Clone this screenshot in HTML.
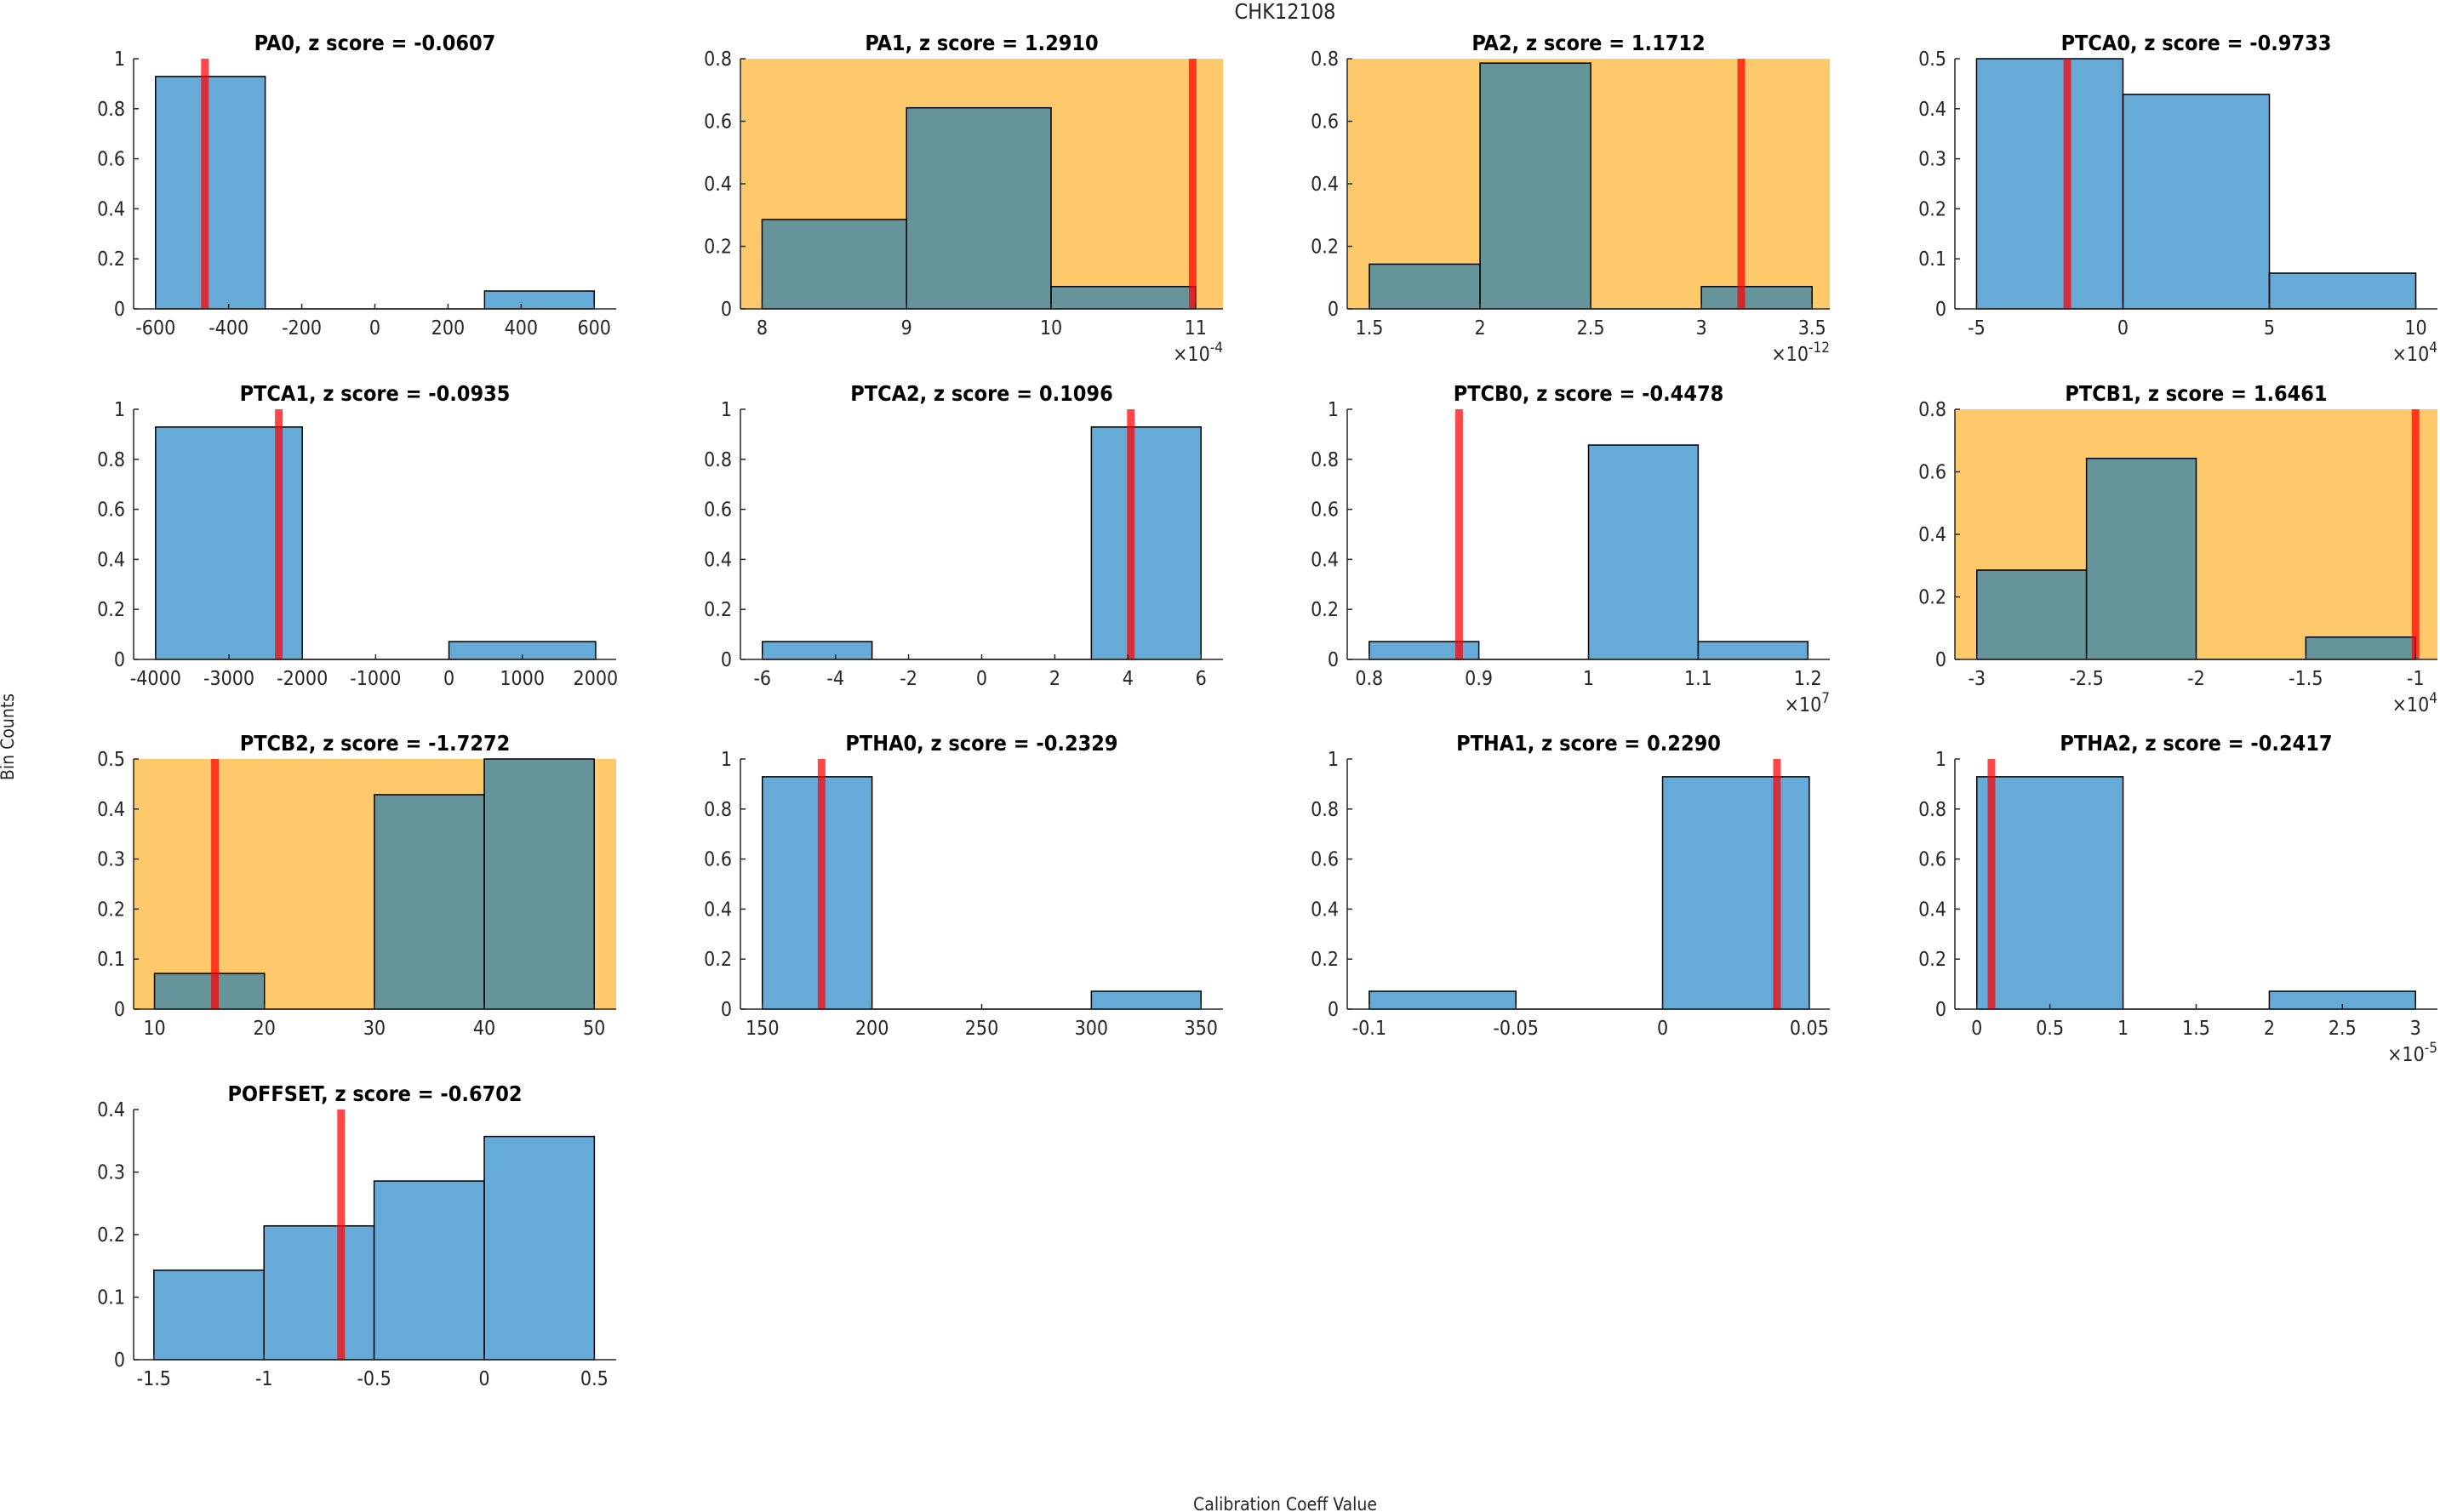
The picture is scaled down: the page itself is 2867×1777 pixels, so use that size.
<!DOCTYPE html>
<html><head><meta charset="utf-8"><style>
html,body{margin:0;padding:0;background:#fff}
svg{display:block}
text{font-family:"DejaVu Sans Condensed","DejaVu Sans","Liberation Sans",sans-serif;font-stretch:condensed;fill:#262626}
.tick{font-size:23px}
.ttl{font-size:25px;font-weight:bold;fill:#000}
</style></head><body>
<svg id="fig" width="2867" height="1777" viewBox="0 0 2867 1777" xmlns="http://www.w3.org/2000/svg">
<text x="1510" y="22" text-anchor="middle" style="font-size:25px">CHK12108</text>
<text x="0" y="0" transform="translate(16,866) rotate(-90)" text-anchor="middle" style="font-size:21px">Bin Counts</text>
<text x="1510" y="1775" text-anchor="middle" style="font-size:21px">Calibration Coeff Value</text>
</svg>
<script>
const names=["PA0","PA1","PA2","PTCA0","PTCA1","PTCA2","PTCB0","PTCB1","PTCB2","PTHA0","PTHA1","PTHA2","POFFSET"];
const zscores=["-0.0607","1.2910","1.1712","-0.9733","-0.0935","0.1096","-0.4478","1.6461","-1.7272","-0.2329","0.2290","-0.2417","-0.6702"];
const xlims=[[-660,660],[7.85,11.19],[1.4,3.58],[-5.74,10.74],[-4300,2280],[-6.6,6.6],[0.78,1.22],[-3.1,-0.9],[8.1,52],[140,360],[-0.1075,0.057],[-0.15,3.15],[-1.592,0.599]];
const xticks=[[-600,-400,-200,0,200,400,600],[8,9,10,11],[1.5,2,2.5,3,3.5],[-5,0,5,10],[-4000,-3000,-2000,-1000,0,1000,2000],[-6,-4,-2,0,2,4,6],[0.8,0.9,1,1.1,1.2],[-3,-2.5,-2,-1.5,-1],[10,20,30,40,50],[150,200,250,300,350],[-0.1,-0.05,0,0.05],[0,0.5,1,1.5,2,2.5,3],[-1.5,-1,-0.5,0,0.5]];
const ymax=[1,0.8,0.8,0.5,1,1,1,0.8,0.5,1,1,1,0.4];
const binEdges=[[-600,-300,0,300,600],[8,9,10,11],[1.5,2,2.5,3,3.5],[-5,0,5,10],[-4000,-2000,0,2000],[-6,-3,0,3,6],[0.8,0.9,1,1.1,1.2],[-3,-2.5,-2,-1.5,-1],[10,20,30,40,50],[150,200,250,300,350],[-0.1,-0.05,0,0.05],[0,1,2,3],[-1.5,-1,-0.5,0,0.5]];
const binCounts=[[0.929,0,0,0.0714],[0.2857,0.643,0.0714],[0.143,0.786,0,0.0714],[0.5,0.4286,0.0714],[0.929,0,0.0714],[0.0714,0,0,0.929],[0.0714,0,0.857,0.0714],[0.2857,0.643,0,0.0714],[0.0714,0,0.4286,0.5],[0.929,0,0,0.0714],[0.0714,0,0.929],[0.929,0,0.0714],[0.143,0.214,0.2857,0.357]];
const redValues=[-465,10.98,3.18,-1.9,-2320,4.08,0.882,-1.0,15.5,177,0.039,0.1,-0.65];
const highlighted=[false,true,true,false,false,false,false,true,true,false,false,false,false];
const exponents=["","-4","-12","4","","","7","4","","","","-5",""];

const NS="http://www.w3.org/2000/svg";
const svg=document.getElementById('fig');
const colL=[157,870,1583,2297], rowT=[69,481,892,1304], W=567, H=294;
function mk(tag,attrs,parent){const e=document.createElementNS(NS,tag);for(const k in attrs)e.setAttribute(k,attrs[k]);(parent||svg).appendChild(e);return e;}
function fmt(v){return String(v);}
names.forEach((nm,i)=>{
  const L=colL[i%4], T=rowT[Math.floor(i/4)], B=T+H, R=L+W;
  const x=v=>L+(v-xlims[i][0])/(xlims[i][1]-xlims[i][0])*W;
  const y=v=>B-v/ymax[i]*H;
  const g=mk('g',{});
  
  
  if(highlighted[i]){const bg=mk('rect',{x:L,y:T,width:W,height:H,fill:'#FDC96A'},g);
    
    }
  const ed=binEdges[i];
  binCounts[i].forEach((c,j)=>{
    const x0=x(ed[j]),x1=x(ed[j+1]);
    if(c>0){const r=mk('rect',{x:x0,y:y(c),width:x1-x0,height:B-y(c),fill:'rgb(0,114,189)','fill-opacity':0.6,stroke:'#000','stroke-width':1.5},g);
      
      }
    else{mk('line',{x1:x0,x2:x1,y1:B,y2:B,stroke:'#000','stroke-width':1.5},g);}
  });
  const rl=mk('line',{x1:x(redValues[i]),x2:x(redValues[i]),y1:T,y2:B,stroke:'#ff0000','stroke-opacity':0.72,'stroke-width':9},g);
  
  
  mk('line',{x1:L,x2:R,y1:B,y2:B,stroke:'#262626','stroke-width':1.5},g);
  mk('line',{x1:L,x2:L,y1:T,y2:B,stroke:'#262626','stroke-width':1.5},g);
  xticks[i].forEach(t=>{const xx=x(t);mk('line',{x1:xx,x2:xx,y1:B,y2:B-6,stroke:'#262626','stroke-width':1.5},g);
    const tx=mk('text',{x:xx,y:B+30,'text-anchor':'middle',class:'tick'},g);tx.textContent=fmt(t);
    
    });
  const step=ymax[i]===0.8?0.2:(ymax[i]===1?0.2:0.1);
  for(let k=0;k<=Math.round(ymax[i]/step);k++){const v=+(k*step).toFixed(2);const yy=y(v);
    mk('line',{x1:L,x2:L+6,y1:yy,y2:yy,stroke:'#262626','stroke-width':1.5},g);
    const tx=mk('text',{x:L-10,y:yy+8,'text-anchor':'end',class:'tick'},g);tx.textContent=fmt(v);
    
    }
  const tt=mk('text',{x:L+W/2,y:T-10,'text-anchor':'middle',class:'ttl'},g);
  tt.textContent=nm+', z score = '+zscores[i];
  
  
  if(exponents[i]){const ex=mk('text',{x:R,y:B+61,'text-anchor':'end',class:'tick',style:'font-size:23px'},g);
    ex.innerHTML='×10<tspan dy="-10" style="font-size:17px">'+exponents[i]+'</tspan>';
    
    }
});
</script>
</body></html>
